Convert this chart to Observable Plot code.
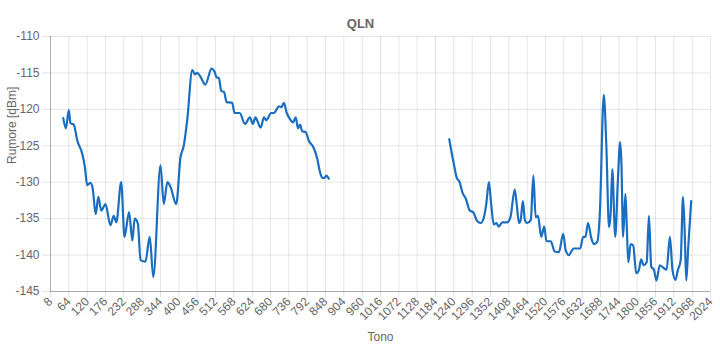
<!DOCTYPE html>
<html>
<head>
<meta charset="utf-8">
<script src="https://cdn.jsdelivr.net/npm/d3@7"></script>
<script src="https://cdn.jsdelivr.net/npm/@observablehq/plot@0.6"></script>
<style>
  html, body { margin: 0; padding: 0; background: #fff; }
  #chart svg { display: block; }
</style>
</head>
<body>
<div id="chart"></div>
<script>
const titleText = "QLN";
const xLabel = "Tono";
const yLabel = "Rumore [dBm]";
const xTicks = [8,64,120,176,232,288,344,400,456,512,568,624,680,736,792,848,904,960,1016,1072,1128,1184,1240,1296,1352,1408,1464,1520,1576,1632,1688,1744,1800,1856,1912,1968,2024];
const yTicks = [-145,-140,-135,-130,-125,-120,-115,-110];

// tone positions (null value = gap in the measurement)
const tones = [
  47,55,64,69,79,90,105,113,120,130,137,146,154,163,176,191,201,209,224,234,248,258,265,275,283,298,311,322,344,354,365,375,392,405,415,426,441,449,456,466,481,500,509,515,522,530,538,546,563,570,586,602,617,626,634,639,650,660,667,682,690,706,713,721,729,739,749,757,764,770,777,787,797,812,823,830,838,845,850,858,
  1040,
  1226,1240,1249,1257,1267,1276,1289,1299,1311,1322,1332,1339,1347,1354,1362,1370,1377,1388,1403,1413,1426,1432,1439,1444,1451,1457,1464,1475,1483,1490,1497,1507,1516,1523,1536,1548,1561,1574,1582,1591,1606,1626,1635,1642,1650,1660,1668,1678,1686,1698,1706,1714,1719,1724,1733,1741,1748,1752,1757,1764,1768,1773,1780,1788,1797,1805,1812,1820,1829,1836,1843,1851,1859,1869,1879,1890,1900,1908,1917,1924,1933,1940,1945,1950,1956,1965
];
const rumore = [
  -121.2,-122.6,-120.1,-121.9,-122.1,-124.3,-126.1,-127.9,-130.4,-130.1,-130.9,-134.4,-132.0,-133.9,-133.0,-135.9,-134.6,-135.5,-130.0,-137.5,-134.1,-138.0,-135.0,-135.7,-140.7,-140.9,-137.5,-143.0,-127.7,-133.0,-130.0,-130.7,-133.0,-126.6,-125.0,-121.3,-114.6,-115.2,-115.0,-115.5,-116.6,-114.4,-114.8,-115.6,-115.7,-117.5,-117.6,-119.0,-119.1,-120.5,-120.5,-122.0,-121.1,-122.0,-121.1,-121.5,-122.5,-121.1,-121.5,-120.5,-120.5,-119.6,-119.7,-119.1,-120.4,-121.3,-121.8,-121.1,-122.6,-122.1,-123.0,-123.1,-124.3,-125.3,-126.8,-128.4,-129.4,-129.4,-129.1,-129.5,
  null,
  -124.1,-127.5,-129.4,-129.9,-131.5,-132.2,-133.9,-134.1,-135.3,-135.6,-134.8,-133.0,-130.0,-133.0,-135.8,-135.6,-136.1,-135.5,-135.5,-134.8,-131.0,-133.0,-135.6,-135.2,-132.6,-135.2,-135.6,-135.2,-129.1,-134.8,-134.6,-137.5,-136.1,-138.1,-138.1,-139.5,-139.6,-137.1,-139.4,-140.0,-139.1,-139.1,-137.5,-137.5,-135.6,-137.7,-138.5,-138.2,-134.3,-118.0,-125.2,-136.2,-134.3,-128.2,-137.5,-129.8,-124.5,-127.5,-137.5,-131.6,-135.7,-141.0,-138.5,-138.7,-142.5,-142.1,-140.6,-141.4,-141.0,-134.6,-141.6,-142.0,-143.5,-141.4,-141.7,-142.0,-137.5,-142.1,-143.4,-142.1,-140.7,-132.0,-136.6,-143.5,-138.9,-132.6
];

const data = tones.map((t, i) => ({tone: t, value: rumore[i]}));

const chart = Plot.plot({
  width: 720,
  height: 350,
  marginLeft: 50,
  marginRight: 10,
  marginTop: 36,
  marginBottom: 59,
  style: {fontFamily: "'Liberation Sans', Arial, sans-serif", fontSize: "12px", color: "#666", background: "#fff"},
  x: {domain: [8, 2024]},
  y: {domain: [-145, -110]},
  marks: [
    Plot.gridX(xTicks, {stroke: "#000", strokeOpacity: 0.1}),
    Plot.gridY(yTicks, {stroke: "#000", strokeOpacity: 0.1}),
    Plot.axisY({ticks: yTicks, tickSize: 8, tickPadding: 3, label: null, stroke: "#000", strokeOpacity: 0.12, fill: "#666", tickFormat: d => String(d)}),
    Plot.axisX({ticks: xTicks, tickSize: 6, tickPadding: 2, tickRotate: -45, label: null, stroke: "#000", strokeOpacity: 0.12, fill: "#666", tickFormat: d => String(d)}),
    Plot.ruleX([8], {stroke: "#000", strokeOpacity: 0.25}),
    Plot.ruleY([-145], {stroke: "#000", strokeOpacity: 0.25}),
    Plot.line(data, {x: "tone", y: "value", stroke: "#1a6dc0", strokeWidth: 2.2, curve: "monotone-x"}),
    Plot.text([titleText], {frameAnchor: "top", dy: -18, dx: -20, fontWeight: "bold", fontSize: 13, fill: "#666"}),
    Plot.text([xLabel], {frameAnchor: "bottom", dy: 49, fontSize: 12, fill: "#666"}),
    Plot.text([yLabel], {frameAnchor: "left", dx: -38, rotate: -90, fontSize: 12, fill: "#666"})
  ]
});
document.getElementById("chart").appendChild(chart);
</script>
</body>
</html>
